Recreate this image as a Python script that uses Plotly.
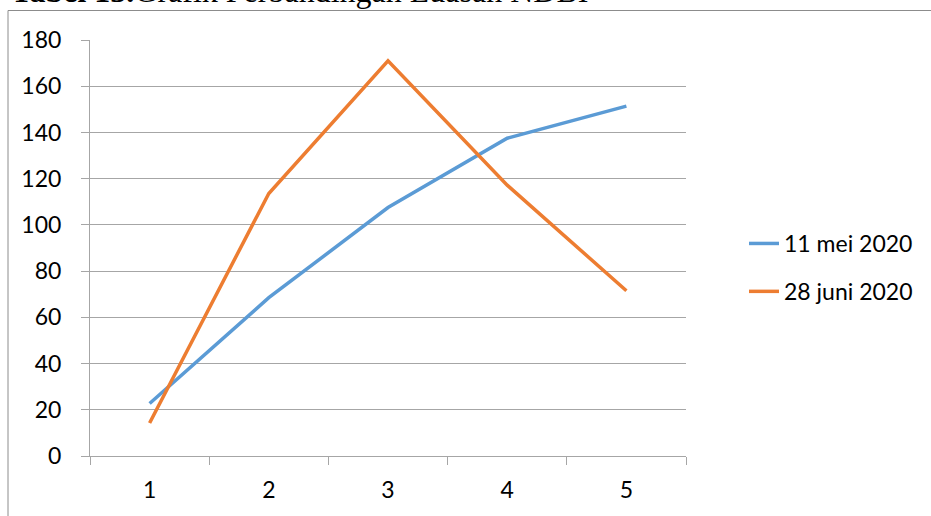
import plotly.graph_objects as go

# Observation index and NDBI built-up area per acquisition date
categories = ["1", "2", "3", "4", "5"]
mei_2020 = [22.7, 68.5, 107.5, 137.5, 151.4]
juni_2020 = [14.3, 113.6, 171.0, 117.2, 71.5]
series_names = ["11 mei 2020", "28 juni 2020"]
y_ticks = list(range(0, 181, 20))

W, H = 931, 516
L, R, T, B = 90, 245, 40, 60
PW, PH = W - L - R, H - T - B

AXIS_GRAY = "#a6a6a6"
FONT = "Lato"

fig = go.Figure()
fig.add_trace(go.Scatter(
    x=categories, y=mei_2020, name=series_names[0], mode="lines",
    line=dict(color="#5b9bd5", width=3.5), legendgroup="a",
))
fig.add_trace(go.Scatter(
    x=categories, y=juni_2020, name=series_names[1], mode="lines",
    line=dict(color="#ed7d31", width=3.5), legendgroup="b",
))

def px_x(px):
    return (px - L) / PW

def px_y(py):
    return (H - B - py) / PH

fig.update_layout(
    width=W, height=H,
    margin=dict(l=L, r=R, t=T, b=B, pad=0),
    paper_bgcolor="white", plot_bgcolor="white",
    font=dict(family=FONT, size=23, color="black"),
    showlegend=True,
    legend=dict(
        x=px_x(744), y=px_y(222), xanchor="left", yanchor="top",
        font=dict(family=FONT, size=23, color="black"),
        tracegroupgap=15, bgcolor="rgba(0,0,0,0)",
    ),
    xaxis=dict(
        type="category", tickson="boundaries", range=[-0.5, len(categories) - 0.5],
        showgrid=False, showline=True, linecolor=AXIS_GRAY, linewidth=1,
        ticks="outside", ticklen=8, tickcolor=AXIS_GRAY, tickwidth=1,
        ticklabelstandoff=13, zeroline=False,
    ),
    yaxis=dict(
        range=[0, 180], tickvals=y_ticks,
        showgrid=True, gridcolor=AXIS_GRAY, gridwidth=1,
        showline=True, linecolor=AXIS_GRAY, linewidth=1,
        ticks="outside", ticklen=8, tickcolor=AXIS_GRAY, tickwidth=1,
        ticklabelstandoff=15, zeroline=False,
    ),
)

# Outer chart frame
fig.add_shape(
    type="rect", xref="paper", yref="paper",
    x0=px_x(8), x1=px_x(W + 20), y0=px_y(H + 20), y1=px_y(10.5),
    line=dict(color="#8c8c8c", width=1), fillcolor="rgba(0,0,0,0)", layer="below",
)

# Caption above the frame
fig.add_annotation(
    xref="paper", yref="paper", x=px_x(9), y=px_y(11),
    xanchor="left", yanchor="bottom", showarrow=False,
    text="<b>Tabel 13.</b>Grafik Perbandingan Luasan NDBI",
    font=dict(family="Liberation Serif", size=32, color="black"),
)

fig.write_html("out.html")
